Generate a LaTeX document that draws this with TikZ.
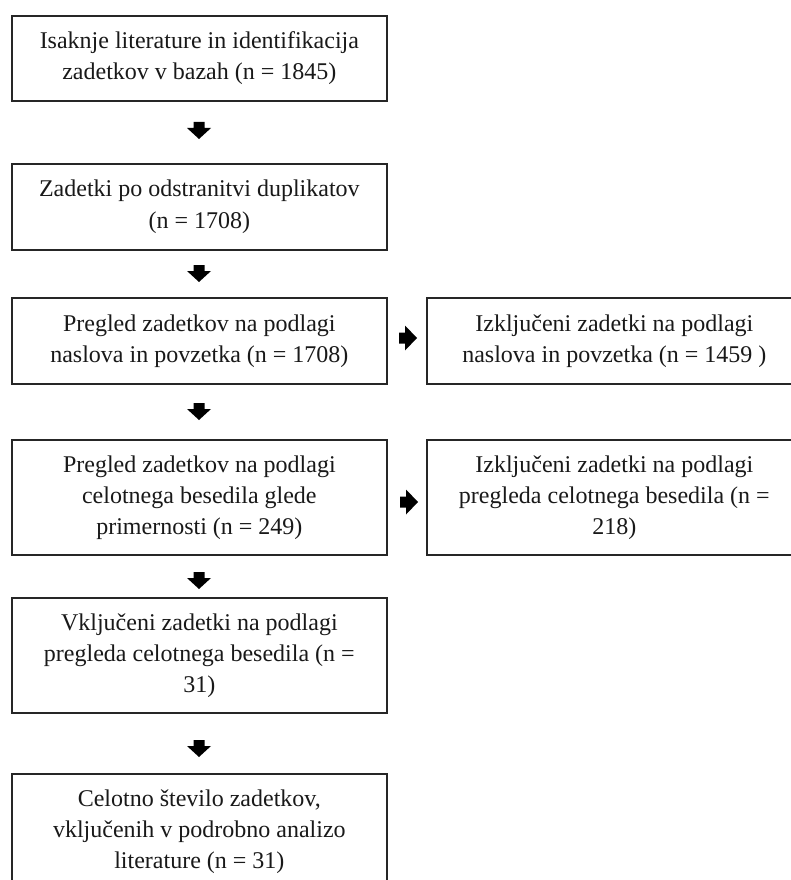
\documentclass[tikz,border=0pt]{standalone}
\usepackage{fontspec}
\setmainfont{Liberation Serif}
\begin{document}
\begin{tikzpicture}[x=1pt,y=-1pt,
  box/.style={draw=black!85, line width=1.7pt, align=center,
    font=\fontsize{24}{31}\selectfont, inner sep=0pt,
    minimum width=375pt, anchor=north west, text=black!90},
  pics/downarr/.style={code={\fill[black] (-5.5,0) -- (5.5,0) -- (5.5,6) -- (12,6) -- (0,17) -- (-12,6) -- (-5.5,6) -- cycle;}},
  pics/rightarr/.style={code={\fill[black] (0,-5.5) -- (6,-5.5) -- (6,-12.5) -- (18,0) -- (6,12.5) -- (6,5.5) -- (0,5.5) -- cycle;}}
]
\useasboundingbox (0,0) rectangle (790,880);
\fill[white] (0,0) rectangle (790,880);

\node[box, minimum height=85pt] (b1) at (11,15) {Isaknje literature in identifikacija\\zadetkov v bazah (n = 1845)};
\node[box, minimum height=86pt] (b2) at (11,163) {Zadetki po odstranitvi duplikatov\\[1pt](n = 1708)};
\node[box, minimum height=86pt] (b3) at (11,297) {Pregled zadetkov na podlagi\\naslova in povzetka (n = 1708)};
\node[box, minimum height=86pt] (r3) at (426,297) {Izključeni zadetki na podlagi\\naslova in povzetka (n = 1459 )};
\node[box, minimum height=115pt] (b4) at (11,439) {Pregled zadetkov na podlagi\\celotnega besedila glede\\primernosti (n = 249)};
\node[box, minimum height=115pt] (r4) at (426,439) {Izključeni zadetki na podlagi\\pregleda celotnega besedila (n =\\218)};
\node[box, minimum height=115pt] (b5) at (11,597) {Vključeni zadetki na podlagi\\pregleda celotnega besedila (n =\\31)};
\node[box, minimum height=115pt] (b6) at (11,773) {Celotno število zadetkov,\\vključenih v podrobno analizo\\literature (n = 31)};

\pic (d1) at (199,122) {downarr};
\pic (d2) at (199,265) {downarr};
\pic (d3) at (199,403) {downarr};
\pic (d4) at (199,572) {downarr};
\pic (d5) at (199,740) {downarr};
\pic (e3) at (399,338) {rightarr};
\pic (e4) at (400,502) {rightarr};
\end{tikzpicture}
\end{document}
